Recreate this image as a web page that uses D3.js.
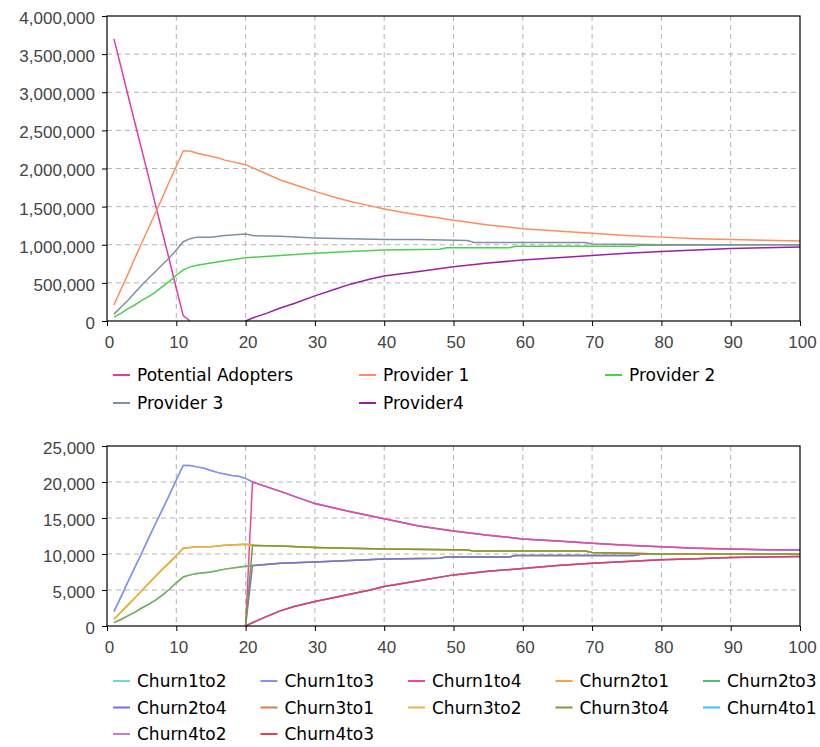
<!DOCTYPE html>
<html>
<head>
<meta charset="utf-8">
<script src="https://cdnjs.cloudflare.com/ajax/libs/d3/7.8.5/d3.min.js"></script>
<style>
  body { margin: 0; background: #fff; }
  svg { display: block; font-family: "DejaVu Sans", sans-serif; }
  .tick text { fill: #444; font-size: 17px; }
  .tick line { stroke: #000; }
  .grid line { stroke: #b4b4b4; stroke-dasharray: 5,4; }
  .legend text { font-size: 17px; fill: #000; }
</style>
</head>
<body>
<div id="chart"></div>
<script>
// ---- top chart: adopters / providers ----
const adopterSteps = [1, 2, 3, 4, 5, 6, 7, 8, 9, 10, 11, 12];
const adopterValues = [3700000, 3340000, 2970000, 2610000, 2250000, 1890000, 1520000, 1160000, 800000, 430000, 70000, 0];

const provider1Steps = [1, 2, 3, 4, 5, 6, 7, 8, 9, 10, 11, 12, 13, 14, 15, 16, 17, 18, 19, 20, 22, 25, 27, 30, 33, 35, 38, 40, 43, 45, 48, 50, 55, 60, 65, 70, 75, 80, 85, 90, 95, 100];
const provider1Values = [210000, 410000, 610000, 820000, 1020000, 1220000, 1420000, 1620000, 1830000, 2030000, 2230000, 2230000, 2200000, 2180000, 2160000, 2140000, 2110000, 2090000, 2070000, 2050000, 1970000, 1850000, 1790000, 1700000, 1620000, 1570000, 1510000, 1470000, 1420000, 1390000, 1350000, 1320000, 1260000, 1210000, 1180000, 1150000, 1120000, 1100000, 1080000, 1070000, 1060000, 1050000];

const provider2Steps = [1, 2, 3, 4, 5, 6, 7, 8, 9, 10, 11, 12, 13, 15, 17, 20, 25, 30, 35, 40, 48, 49, 58, 59, 76, 77, 100];
const provider2Values = [50000, 100000, 160000, 210000, 270000, 320000, 380000, 450000, 520000, 600000, 670000, 710000, 730000, 760000, 790000, 830000, 860000, 890000, 910000, 930000, 940000, 960000, 960000, 980000, 980000, 995000, 1000000];

const provider3Steps = [1, 2, 3, 4, 5, 6, 7, 8, 9, 10, 11, 12, 13, 15, 17, 20, 21, 25, 30, 35, 40, 45, 52, 53, 69, 70, 75, 80, 100];
const provider3Values = [90000, 180000, 270000, 370000, 470000, 560000, 650000, 740000, 830000, 930000, 1040000, 1080000, 1100000, 1100000, 1120000, 1140000, 1120000, 1110000, 1090000, 1080000, 1070000, 1070000, 1055000, 1030000, 1030000, 1010000, 1005000, 1000000, 1000000];

const provider4Steps = [20, 21, 23, 25, 27, 30, 33, 35, 38, 40, 45, 50, 55, 60, 65, 70, 75, 80, 85, 90, 95, 100];
const provider4Values = [0, 40000, 100000, 170000, 230000, 330000, 420000, 480000, 550000, 590000, 650000, 710000, 760000, 800000, 830000, 860000, 890000, 910000, 930000, 950000, 960000, 970000];

// ---- bottom chart: churn flows ----
const from1Steps = [1, 2, 3, 4, 5, 6, 7, 8, 9, 10, 11, 12, 13, 14, 15, 16, 17, 18, 19, 20, 21, 25, 30, 35, 40, 45, 50, 55, 60, 65, 70, 75, 80, 85, 90, 95, 100];
const from1Values = [2000, 4000, 6100, 8100, 10100, 12200, 14200, 16200, 18200, 20300, 22300, 22300, 22100, 21900, 21600, 21300, 21100, 20900, 20800, 20500, 20000, 18700, 17000, 15900, 14900, 13900, 13200, 12600, 12100, 11800, 11500, 11200, 11000, 10800, 10700, 10600, 10550];
const churn1to4Steps = [20, 21, 25, 30, 35, 40, 45, 50, 55, 60, 65, 70, 75, 80, 85, 90, 95, 100];
const churn1to4Values = [0, 20000, 18700, 17000, 15900, 14900, 13900, 13200, 12600, 12100, 11800, 11500, 11200, 11000, 10800, 10700, 10600, 10550];

const from2Steps = [1, 2, 3, 4, 5, 6, 7, 8, 9, 10, 11, 12, 13, 15, 17, 20, 21, 25, 30, 35, 40, 48, 49, 58, 59, 76, 77, 100];
const from2Values = [460, 900, 1400, 1900, 2500, 3000, 3600, 4300, 5100, 6000, 6800, 7100, 7300, 7500, 7900, 8300, 8400, 8700, 8900, 9100, 9300, 9400, 9600, 9600, 9800, 9800, 9950, 10000];
const churn2to4Steps = [20, 21, 25, 30, 35, 40, 48, 49, 58, 59, 76, 77, 100];
const churn2to4Values = [0, 8400, 8700, 8900, 9100, 9300, 9400, 9600, 9600, 9800, 9800, 9950, 10000];

const from3Steps = [1, 2, 3, 4, 5, 6, 7, 8, 9, 10, 11, 12, 13, 15, 17, 20, 21, 25, 30, 35, 40, 50, 52, 53, 69, 70, 75, 80, 100];
const from3Values = [930, 1900, 2900, 3900, 4900, 5900, 6900, 7900, 8800, 9800, 10800, 10900, 11000, 11000, 11200, 11350, 11200, 11100, 10900, 10800, 10700, 10600, 10550, 10400, 10400, 10200, 10100, 10000, 10000];
const churn3to4Steps = [20, 21, 25, 30, 35, 40, 50, 52, 53, 69, 70, 75, 80, 100];
const churn3to4Values = [0, 11200, 11100, 10900, 10800, 10700, 10600, 10550, 10400, 10400, 10200, 10100, 10000, 10000];

const from4Steps = [20, 21, 23, 25, 27, 30, 33, 35, 38, 40, 45, 50, 55, 60, 65, 70, 75, 80, 85, 90, 95, 100];
const from4Values = [0, 460, 1300, 2100, 2700, 3400, 4000, 4400, 5000, 5500, 6300, 7100, 7600, 8000, 8400, 8700, 8950, 9200, 9350, 9500, 9600, 9650];

const xTicks = [0, 10, 20, 30, 40, 50, 60, 70, 80, 90, 100];
const topYTicks = [0, 500000, 1000000, 1500000, 2000000, 2500000, 3000000, 3500000, 4000000];
const bottomYTicks = [0, 5000, 10000, 15000, 20000, 25000];

const topSeries = [
  { name: 'Potential Adopters', color: '#de3ca6', steps: adopterSteps, values: adopterValues },
  { name: 'Provider 1', color: '#ff8c5c', steps: provider1Steps, values: provider1Values },
  { name: 'Provider 2', color: '#4ccf4c', steps: provider2Steps, values: provider2Values },
  { name: 'Provider 3', color: '#8090a4', steps: provider3Steps, values: provider3Values },
  { name: 'Provider4', color: '#9b1fa3', steps: provider4Steps, values: provider4Values },
];

const bottomSeries = [
  { name: 'Churn1to2', color: '#72d8cf', steps: from1Steps, values: from1Values },
  { name: 'Churn1to3', color: '#8a8cf8', steps: from1Steps, values: from1Values },
  { name: 'Churn1to4', color: '#f0449f', steps: churn1to4Steps, values: churn1to4Values },
  { name: 'Churn2to1', color: '#ffa040', steps: from2Steps, values: from2Values },
  { name: 'Churn2to3', color: '#5db872', steps: from2Steps, values: from2Values },
  { name: 'Churn2to4', color: '#7c6fd6', steps: churn2to4Steps, values: churn2to4Values },
  { name: 'Churn3to1', color: '#d9803e', steps: from3Steps, values: from3Values },
  { name: 'Churn3to2', color: '#e8b43c', steps: from3Steps, values: from3Values },
  { name: 'Churn3to4', color: '#7d9a3a', steps: churn3to4Steps, values: churn3to4Values },
  { name: 'Churn4to1', color: '#33c4f0', steps: from4Steps, values: from4Values },
  { name: 'Churn4to2', color: '#c77ad9', steps: from4Steps, values: from4Values },
  { name: 'Churn4to3', color: '#e0405c', steps: from4Steps, values: from4Values },
];

const svg = d3.select('#chart')
  .append('svg')
  .attr('width', 820)
  .attr('height', 747);

const drawPanel = (cfg) => {
  const x = d3.scaleLinear().domain([0, 100]).range([cfg.l, cfg.r]);
  const y = d3.scaleLinear().domain(cfg.yDomain).range([cfg.b, cfg.t]);
  const g = svg.append('g');

  // dashed grid
  const grid = g.append('g').classed('grid', true);
  grid.selectAll('.vx')
    .data(xTicks.slice(1, -1))
    .enter().append('line')
    .attr('x1', d => x(d)).attr('x2', d => x(d))
    .attr('y1', cfg.t).attr('y2', cfg.b);
  grid.selectAll('.hy')
    .data(cfg.yTicks.slice(1, -1))
    .enter().append('line')
    .attr('y1', d => y(d)).attr('y2', d => y(d))
    .attr('x1', cfg.l).attr('x2', cfg.r);

  // lines, later series on top
  const line = d3.line()
    .x(d => x(d[0]))
    .y(d => y(d[1]));
  g.selectAll('.series')
    .data(cfg.series)
    .enter().append('path')
    .classed('series', true)
    .attr('fill', 'none')
    .attr('stroke', d => d.color)
    .attr('stroke-width', 1.5)
    .attr('d', d => line(d3.zip(d.steps, d.values)));

  // frame
  g.append('rect')
    .attr('x', cfg.l).attr('y', cfg.t)
    .attr('width', cfg.r - cfg.l).attr('height', cfg.b - cfg.t)
    .attr('fill', 'none').attr('stroke', '#000').attr('stroke-width', 1.2);

  const xg = g.append('g')
    .attr('transform', `translate(0, ${cfg.b})`)
    .call(d3.axisBottom(x).tickValues(xTicks).tickSize(5).tickPadding(10));
  xg.select('.domain').remove();
  xg.selectAll('.tick text').attr('dx', 2);

  const yg = g.append('g')
    .attr('transform', `translate(${cfg.l}, 0)`)
    .call(d3.axisLeft(y).tickValues(cfg.yTicks).tickSize(5).tickPadding(7).tickFormat(d3.format(',')));
  yg.select('.domain').remove();
  yg.selectAll('.tick text').attr('dy', '0.44em');

  // legend
  const lg = g.append('g').classed('legend', true);
  const items = lg.selectAll('.item')
    .data(cfg.series)
    .enter().append('g')
    .attr('transform', (d, i) =>
      `translate(${cfg.legend.x + (i % cfg.legend.cols) * cfg.legend.colW}, ${cfg.legend.y + Math.floor(i / cfg.legend.cols) * cfg.legend.rowH})`);
  items.append('line')
    .attr('x1', 0).attr('x2', 17)
    .attr('stroke', d => d.color)
    .attr('stroke-width', 2);
  items.append('text')
    .attr('x', 24)
    .attr('dy', '0.36em')
    .text(d => d.name);
};

drawPanel({
  l: 107, r: 800, t: 16, b: 321,
  yDomain: [0, 4000000], yTicks: topYTicks,
  series: topSeries,
  legend: { x: 113, y: 375, cols: 3, colW: 246, rowH: 28 },
});

drawPanel({
  l: 107, r: 800, t: 446, b: 626,
  yDomain: [0, 25000], yTicks: bottomYTicks,
  series: bottomSeries,
  legend: { x: 113, y: 681, cols: 5, colW: 147.5, rowH: 26.5 },
});
</script>
</body>
</html>
